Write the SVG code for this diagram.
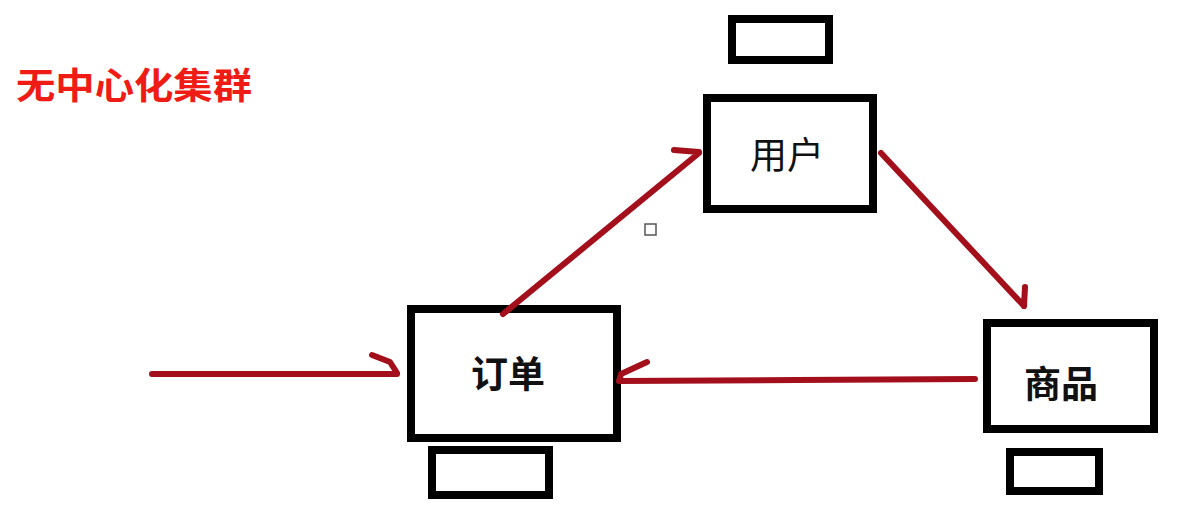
<svg xmlns="http://www.w3.org/2000/svg" width="1203" height="514" viewBox="0 0 1203 514">
<style>
.box{fill:#fff;stroke:#000;stroke-width:8}
.lbl{font-family:"Noto Sans CJK SC","Noto Sans",sans-serif;font-size:37px;fill:#111;text-anchor:middle;dominant-baseline:central}
.title{font-family:"Noto Sans CJK SC","Noto Sans",sans-serif;font-size:36px;font-weight:bold;fill:#ee1c14}
.c{fill:none;stroke:#a3101c;stroke-width:6;stroke-linecap:round;stroke-linejoin:round}
</style>
<rect width="1203" height="514" fill="#fff"/>
<text class="title" x="16" y="99" textLength="236" lengthAdjust="spacingAndGlyphs">无中心化集群</text>
<g id="node-user">
<rect class="box" x="732" y="19" width="97" height="41"/>
<rect class="box" x="707" y="98" width="166" height="111"/>
<text class="lbl" x="787" y="153">用户</text>
</g>
<g id="node-order">
<rect class="box" x="411" y="309" width="206" height="129"/>
<rect class="box" x="432" y="450" width="117" height="45"/>
<text class="lbl" x="508" y="372" font-weight="bold">订单</text>
</g>
<g id="node-goods">
<rect class="box" x="987" y="323" width="167" height="106"/>
<rect class="box" x="1010" y="452" width="89" height="39"/>
<text class="lbl" x="1061" y="382" font-weight="bold">商品</text>
</g>
<rect x="645" y="224" width="11" height="11" fill="#fff" stroke="#555" stroke-width="1.5"/>
<g id="connectors">
<path class="c" d="M152 374 L397 374 M372 355 L390 362 L397 373"/>
<path class="c" d="M503 314 L699 153 M674 150 L699 152"/>
<path class="c" d="M881 153 L1024 306 M1025 287 L1024 306"/>
<path class="c" d="M975 379 L797 380 L619 381 M647 362 L621 374 L619 381"/>
</g>
</svg>
